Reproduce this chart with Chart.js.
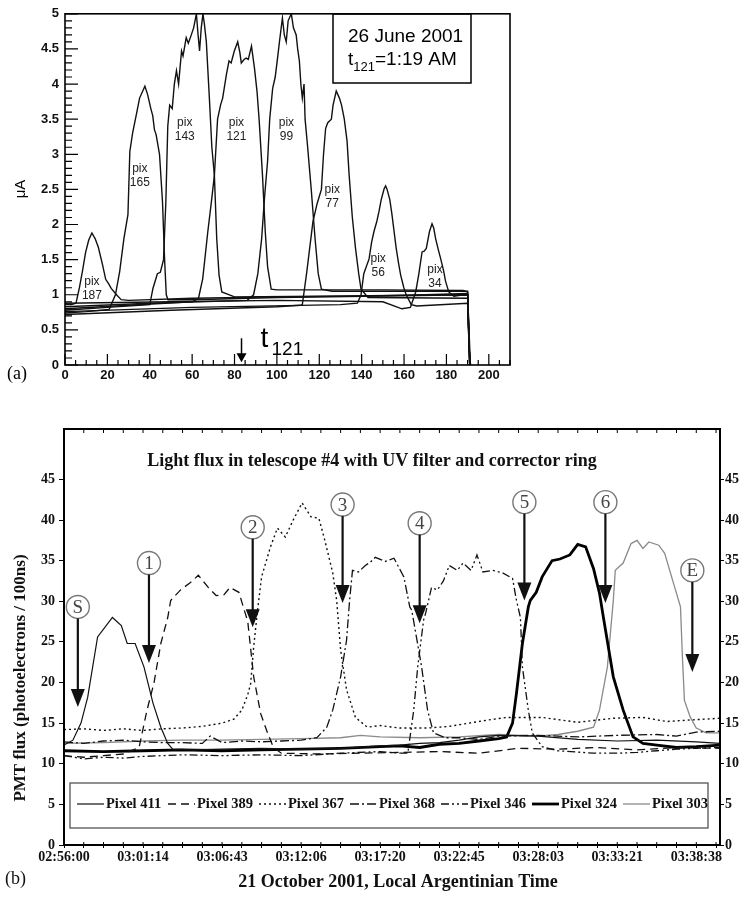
<!DOCTYPE html>
<html>
<head>
<meta charset="utf-8">
<script src="https://cdn.jsdelivr.net/npm/chart.js@4.4.1/dist/chart.umd.min.js"></script>
<style>
  html, body { margin: 0; padding: 0; background: #fff; overflow: hidden; width: 739px; height: 898px; }
  #chartA { position: absolute; left: 0; top: 0; }
  #chartB { position: absolute; left: 0; top: 400px; }
</style>
</head>
<body>
<canvas id="chartA" width="739" height="400"></canvas>
<canvas id="chartB" width="752" height="498"></canvas>
<script>
// ---------- panel (a): scan position vs current (uA), one curve per pixel ----------
const pix187 = [[0,0.86],[3,0.86],[5.2,0.88],[6.8,1.1],[8.2,1.33],[9.7,1.6],[11.2,1.78],[12.7,1.88],[14.2,1.8],[15.7,1.68],[17.7,1.43],[19.2,1.22],[20.7,1.15],[21.8,1.09],[24.3,1.0],[26.5,0.93],[30,0.92],[60,0.95],[100,0.97],[140,0.98],[170,1.0],[190,1.02],[190.8,0.4],[191.3,0]];
const pix165 = [[0,0.74],[10,0.76],[20.8,0.79],[23.8,1.0],[25.8,1.33],[27.8,1.8],[29.7,2.14],[30.6,3.04],[31.9,3.3],[33.9,3.6],[35.2,3.8],[37.7,3.97],[39,3.85],[40.5,3.65],[41.4,3.55],[42.2,3.35],[43,3.28],[44.6,3.0],[46,2.33],[47,1.5],[47.8,1.0],[48.6,0.93],[60,0.93],[100,0.96],[150,0.98],[190,1.0],[190.6,0.3],[191.4,0]];
const pix143 = [[0,0.78],[20,0.82],[40,0.86],[41.5,1.09],[43.6,1.3],[45,1.32],[46.5,1.5],[47.6,2.33],[48.5,3.4],[49.4,3.7],[50.6,3.65],[51.6,4.0],[52.6,4.19],[53.6,4.0],[55,4.47],[55.7,4.4],[57.2,4.66],[58.2,4.58],[59.6,4.7],[60.7,4.8],[62,5.0],[62.8,4.7],[63.5,4.47],[64.3,4.8],[65.1,5.0],[65.8,4.85],[66.7,4.6],[68.2,3.76],[69.3,3.1],[70.5,2.7],[71.6,1.8],[72.7,1.28],[74,1.04],[80,0.97],[120,0.98],[190,1.0],[190.8,0.2],[191.2,0]];
const pix121 = [[0,0.8],[30,0.85],[60,0.9],[63,0.95],[65,1.23],[67.4,1.9],[69,2.3],[70.5,2.7],[72,3.5],[73.4,3.7],[74.4,3.8],[76.2,4.14],[77.4,4.33],[78.4,4.3],[79.9,4.47],[81.5,4.6],[82.5,4.45],[83.2,4.3],[84.5,4.35],[85.5,4.37],[86.5,4.35],[88,4.54],[89.4,4.23],[90.6,3.9],[91.6,3.5],[93.2,2.7],[94.5,1.9],[95.6,1.4],[97.3,1.08],[100,1.07],[150,1.07],[188,1.06],[190,1.04],[191,0]];
const pix99 = [[0,0.83],[40,0.88],[86,0.92],[89,1.0],[91,1.3],[92.8,1.8],[94.2,2.4],[95.6,2.9],[96.6,3.5],[98,3.94],[99.2,4.1],[100.3,4.37],[101.2,4.6],[102.6,4.94],[103.5,4.7],[104.4,4.6],[105.3,4.9],[106.8,5.0],[107.8,4.8],[109.1,4.7],[109.8,4.5],[110.6,4.33],[111.3,4.0],[112,3.8],[112.8,4.0],[113.3,3.5],[114.4,3.14],[116.2,2.5],[118,1.8],[119.5,1.3],[121,1.08],[126,1.05],[190,1.05],[191,0]];
const pix77 = [[0,0.72],[50,0.78],[100,0.83],[111,0.85],[112,0.86],[114,1.3],[117,2.04],[119,2.3],[121,2.5],[122,3.0],[123,3.37],[124,3.45],[125.7,3.5],[126.5,3.7],[128,3.9],[129.5,3.8],[130.5,3.7],[131.8,3.5],[133.1,3.19],[134.1,2.7],[135.6,2.1],[137.1,1.66],[138.6,1.3],[139.7,1.08],[143,0.96],[190,0.95],[191,0]];
const pix56 = [[0,0.76],[60,0.82],[130,0.86],[138,0.88],[139.7,1.0],[141,1.3],[143.5,1.51],[144.7,1.75],[145.8,1.9],[147.2,2.05],[148.2,2.19],[149.2,2.35],[150.6,2.51],[151.3,2.55],[152,2.5],[153.3,2.35],[154.3,2.14],[156.3,1.66],[157.4,1.45],[158.4,1.28],[159.9,1.1],[161,1.0],[163.4,0.86],[166,0.84],[190,0.88],[191,0]];
const pix34 = [[0,0.88],[50,0.9],[100,0.92],[150,0.9],[159,0.8],[163,0.82],[165.5,1.04],[167,1.3],[168.5,1.61],[169.5,1.62],[170.5,1.66],[172,1.9],[173.2,2.01],[174,1.95],[174.9,1.8],[176.1,1.65],[177.3,1.51],[178.6,1.35],[179.6,1.19],[181.1,1.04],[183.5,0.98],[188,1.0],[190,1.0],[191,0]];

const scanSeries = [pix187, pix165, pix143, pix121, pix99, pix77, pix56, pix34];
const scanNames = ['187', '165', '143', '121', '99', '77', '56', '34'];
const scanLabelX = [12.7, 35.3, 56.5, 80.9, 104.5, 126.1, 147.8, 174.6];
const scanLabelY = [1.18, 2.8, 3.45, 3.45, 3.45, 2.49, 1.52, 1.35];
const t121Pos = 83.3;

// ---------- panel (b): PMT flux, x = sample tick index ----------
const timeLabels = ['02:56:00', '03:01:14', '03:06:43', '03:12:06', '03:17:20', '03:22:45', '03:28:03', '03:33:21', '03:38:38'];
const pixelNames = ['Pixel 411', 'Pixel 389', 'Pixel 367', 'Pixel 368', 'Pixel 346', 'Pixel 324', 'Pixel 303'];

const px411 = [[0,12.3],[0.45,12.9],[0.86,15],[1.2,18.2],[1.7,25.6],[2.45,28.0],[2.9,27],[3.2,24.8],[3.6,24.8],[4.05,21.9],[4.5,17.5],[4.9,14.5],[5.25,12.5],[5.5,11.8],[6.5,11.7],[8,11.8],[10,11.9],[12,11.8],[14,11.9],[16,12.2],[17,12.3],[18,12.5],[19,12.6],[20,12.9],[21,13.3],[22,13.5],[24,13.4],[26,13.0],[28,12.8],[30,12.9],[32,12.7],[33.2,12.5]];
const px389 = [[0,11.0],[1,10.8],[2,11.0],[3,11.2],[3.8,12.0],[4.2,16.6],[4.55,19.9],[4.9,24.8],[5.25,28],[5.4,30.1],[5.9,31.4],[6.4,32.3],[6.8,33.2],[7.3,31.7],[7.7,30.7],[8.1,30.8],[8.4,31.7],[8.85,31.1],[9.3,27.5],[9.6,20.7],[9.95,16.2],[10.3,13.8],[10.6,12.0],[11,11.3],[13,11.2],[15,11.3],[17,11.4],[19,11.5],[21,11.3],[23,11.9],[25,11.8],[27,12.0],[29,11.7],[31,12.0],[33.2,11.9]];
const px367 = [[0,14.2],[1,14.3],[2,14.1],[3,14.3],[4,14.1],[5,14.3],[6,14.4],[7,14.6],[8,15.0],[8.6,15.5],[9.0,16.6],[9.3,18.5],[9.45,19.9],[9.6,24.4],[9.8,29],[10,33],[10.45,36.7],[10.8,39],[11.2,37.9],[11.6,40],[12.05,42.1],[12.5,40.4],[12.9,40.2],[13.2,37.5],[13.6,33.5],[13.8,30.1],[14,24],[14.3,19.1],[14.75,15.7],[15.35,14.5],[16,14.7],[17,14.4],[18.4,14.4],[19.5,14.6],[20.5,15.0],[21.5,15.4],[22.4,15.7],[24.2,15.7],[26,15.1],[27.8,15.6],[29.3,15.7],[30.5,15.2],[31.8,15.4],[33.2,15.6]];
const px368 = [[0,12.7],[1,12.5],[2,12.8],[3,12.9],[4,12.7],[5,12.6],[6,12.6],[7,12.5],[7.4,13.4],[8,12.6],[9,12.8],[10,12.7],[11,12.8],[12,12.9],[12.8,13.2],[13.3,14.5],[13.6,16.6],[14,20.7],[14.3,25.2],[14.45,30],[14.6,33.8],[14.9,33.6],[15.25,34.4],[15.5,34.8],[15.75,35.4],[16.25,34.9],[16.7,35.3],[17.2,33],[17.5,29.3],[17.6,28.9],[18.1,21.9],[18.4,16.6],[18.7,13.8],[19.3,13.2],[20,13.2],[21,13.0],[22,13.4],[24,13.5],[26,13.3],[28,13.5],[30,13.6],[31,13.4],[32,13.9],[33.2,14.0]];
const px346 = [[0,11.0],[1,10.6],[2,10.8],[3,10.7],[4,10.9],[5,11.0],[6,11.1],[8,11.0],[10,11.1],[12,11.0],[14,11.3],[16,11.5],[17,11.3],[17.4,11.3],[17.7,16.6],[17.9,21.9],[18.2,27.7],[18.3,28.5],[18.6,31.7],[18.9,31.4],[19.2,32.5],[19.5,34.4],[19.9,33.8],[20.2,34.7],[20.6,33.8],[20.9,35.7],[21.2,33.6],[21.7,33.8],[22.2,33.5],[22.7,32.8],[22.9,30.1],[23.1,28],[23.2,21.9],[23.5,16.6],[23.7,13.8],[24.2,12.1],[25,11.6],[26.8,11.3],[28,11.3],[29,11.4],[30,11.6],[31,11.8],[32,11.9],[33.2,12.0]];
const px324 = [[0,11.6],[2,11.5],[4,11.6],[6,11.7],[8,11.6],[10,11.7],[12,11.8],[14,11.9],[16,12.1],[17,12.2],[18,12.0],[19,12.4],[20,12.5],[21,12.8],[22,13.1],[22.4,13.3],[22.7,15],[22.9,18.7],[23.2,24.8],[23.5,29.3],[23.6,30.1],[23.9,31.1],[24.2,33],[24.7,35],[25.1,35.2],[25.6,35.7],[26,37],[26.4,36.7],[26.8,34],[27.1,31],[27.3,28],[27.8,20.7],[28.3,16.6],[28.8,13.3],[29.3,12.5],[30,12.3],[31,12.0],[32,12.1],[33.2,12.3]];
const px303 = [[0,12.5],[2,12.6],[4,12.8],[6,12.9],[8,12.9],[10,13.0],[12,13.1],[14,13.2],[15,13.5],[16,13.3],[18,13.2],[20,13.3],[22,13.6],[24,13.4],[25,13.6],[26,14.0],[26.8,14.5],[27.1,16.6],[27.5,21.9],[27.8,30.1],[27.9,33.8],[28.3,34.7],[28.7,37.1],[29.0,37.5],[29.3,36.5],[29.6,37.3],[30.1,36.9],[30.4,35.9],[30.8,32.6],[31.2,29.3],[31.3,23],[31.4,17.8],[31.7,15.7],[32,14.4],[32.5,13.8],[33.2,13.8]];

const fluxSeries = [px411, px389, px367, px368, px346, px324, px303];
const fluxDash = [[], [8, 5], [2, 3], [9, 3, 2, 3], [8, 3, 2, 3, 2, 3], [], []];
const fluxWidth = [1.2, 1.3, 1.4, 1.3, 1.3, 2.8, 1.3];
const fluxColor = ['#111', '#111', '#111', '#111', '#111', '#000', '#8a8a8a'];

// arrows: label, x position, circle centre value, tip value
const arrowLabels = ['S', '1', '2', '3', '4', '5', '6', 'E'];
const arrowX = [0.7, 4.3, 9.55, 14.1, 18.0, 23.3, 27.4, 31.8];
const arrowTop = [29.3, 34.7, 39.1, 41.9, 39.6, 42.2, 42.2, 33.8];
const arrowTip = [17, 22.4, 26.8, 29.8, 27.3, 30.1, 29.8, 21.3];

const SANS = '"Liberation Sans", Arial, sans-serif';
const SERIF = '"Liberation Serif", "Times New Roman", serif';

function toPts(arr) { return arr.map(p => ({ x: p[0], y: p[1] })); }

// ---------- panel (a) ----------
const panelA = {
  id: 'panelA',
  afterDatasetsDraw(chart) {
    const { ctx, chartArea: a, scales: { x, y } } = chart;
    ctx.save();
    ctx.strokeStyle = '#000';
    ctx.lineWidth = 1.2;
    ctx.beginPath();
    for (let v = 0; v <= 210; v += 5) {
      const px = x.getPixelForValue(v);
      const len = v % 20 === 0 ? 11 : 5;
      ctx.moveTo(px, a.bottom); ctx.lineTo(px, a.bottom - len);
    }
    for (let i = 0; i <= 50; i++) {
      const py = y.getPixelForValue(i / 10);
      const len = i % 5 === 0 ? 13 : 7;
      ctx.moveTo(a.left, py); ctx.lineTo(a.left + len, py);
    }
    ctx.stroke();
    ctx.lineWidth = 1.6;
    ctx.strokeRect(a.left, a.top, a.right - a.left, a.bottom - a.top);

    // pix labels
    ctx.fillStyle = '#222';
    ctx.font = '12px ' + SANS;
    ctx.textAlign = 'center';
    ctx.textBaseline = 'middle';
    scanNames.forEach((n, i) => {
      const px = x.getPixelForValue(scanLabelX[i]);
      const py = y.getPixelForValue(scanLabelY[i]);
      ctx.fillText('pix', px, py);
      ctx.fillText(n, px, py + 14);
    });

    // t121 arrow
    const ax = x.getPixelForValue(t121Pos);
    const aTop = y.getPixelForValue(0.38);
    const aTip = y.getPixelForValue(0.04);
    ctx.fillStyle = '#000';
    ctx.lineWidth = 1.5;
    ctx.beginPath(); ctx.moveTo(ax, aTop); ctx.lineTo(ax, aTip - 6); ctx.stroke();
    ctx.beginPath(); ctx.moveTo(ax - 5, aTip - 9); ctx.lineTo(ax + 5, aTip - 9); ctx.lineTo(ax, aTip); ctx.closePath(); ctx.fill();
    ctx.textAlign = 'left';
    ctx.textBaseline = 'alphabetic';
    ctx.font = '28px ' + SANS;
    ctx.fillText('t', ax + 19, 347);
    ctx.font = '19px ' + SANS;
    ctx.fillText('121', ax + 30, 355);

    // info box
    ctx.lineWidth = 1.5;
    ctx.strokeRect(333, 14, 138, 69);
    ctx.font = '19px ' + SANS;
    ctx.fillText('26 June 2001', 348, 42);
    ctx.fillText('t', 348, 65);
    const tw = ctx.measureText('t').width;
    ctx.font = '13px ' + SANS;
    ctx.fillText('121', 348 + tw, 71);
    const sw = ctx.measureText('121').width;
    ctx.font = '19px ' + SANS;
    ctx.fillText('=1:19 AM', 348 + tw + sw, 65);

    // axis title and panel tag
    ctx.save();
    ctx.translate(21, 189);
    ctx.rotate(-Math.PI / 2);
    ctx.textAlign = 'center';
    ctx.textBaseline = 'middle';
    ctx.font = '15px ' + SANS;
    ctx.fillText('\u03bcA', 0, 0);
    ctx.restore();
    ctx.font = '18px ' + SERIF;
    ctx.textAlign = 'left';
    ctx.textBaseline = 'middle';
    ctx.fillText('(a)', 7, 374);
    ctx.restore();
  }
};

new Chart(document.getElementById('chartA'), {
  type: 'line',
  data: {
    datasets: scanSeries.map((s, i) => ({
      label: 'pix ' + scanNames[i],
      data: toPts(s),
      borderColor: '#111',
      borderWidth: 1.4,
      pointRadius: 0,
      tension: 0,
      fill: false
    }))
  },
  options: {
    responsive: false,
    animation: false,
    layout: { padding: { top: 13, left: 0, right: 229, bottom: 0 } },
    plugins: { legend: { display: false }, tooltip: { enabled: false } },
    scales: {
      x: {
        type: 'linear', min: 0, max: 210,
        grid: { display: false, drawTicks: false },
        border: { display: false },
        ticks: { stepSize: 20, includeBounds: false, padding: 3, color: '#111', maxRotation: 0,
          font: { family: SANS, size: 13, weight: 'bold' } },
        afterFit(s) { s.height = 35; }
      },
      y: {
        min: 0, max: 5,
        grid: { display: false, drawTicks: false },
        border: { display: false },
        ticks: { stepSize: 0.5, padding: 6, color: '#111',
          font: { family: SANS, size: 13, weight: 'bold' },
          callback: v => String(Math.round(v * 10) / 10) },
        afterFit(s) { s.width = 65; }
      }
    }
  },
  plugins: [panelA]
});

// ---------- panel (b) ----------
const panelB = {
  id: 'panelB',
  afterDatasetsDraw(chart) {
    const { ctx, chartArea: a, scales: { x, y } } = chart;
    ctx.save();
    ctx.strokeStyle = '#000';
    ctx.lineWidth = 2;
    ctx.strokeRect(a.left, a.top, a.right - a.left, a.bottom - a.top);
    // small inward ticks on the top border
    ctx.lineWidth = 1;
    ctx.beginPath();
    for (let v = 0; v <= 33; v++) {
      const px = x.getPixelForValue(v);
      ctx.moveTo(px, a.top); ctx.lineTo(px, a.top + 4);
      ctx.moveTo(px, a.bottom); ctx.lineTo(px, a.bottom - 3);
    }
    ctx.stroke();

    // title inside the plot
    ctx.fillStyle = '#111';
    ctx.font = 'bold 18px ' + SERIF;
    ctx.textAlign = 'center';
    ctx.textBaseline = 'middle';
    ctx.fillText('Light flux in telescope #4 with UV filter and corrector ring', 372, 61);

    // arrows with circled labels
    arrowLabels.forEach((lab, i) => {
      const px = x.getPixelForValue(arrowX[i]);
      const cy = y.getPixelForValue(arrowTop[i]);
      const tip = y.getPixelForValue(arrowTip[i]);
      ctx.strokeStyle = '#777';
      ctx.lineWidth = 1.4;
      ctx.beginPath(); ctx.arc(px, cy, 11.5, 0, Math.PI * 2); ctx.stroke();
      ctx.fillStyle = '#444';
      ctx.font = '19px ' + SERIF;
      ctx.fillText(lab, px, cy + 1);
      ctx.strokeStyle = '#111';
      ctx.lineWidth = 2.2;
      ctx.beginPath(); ctx.moveTo(px, cy + 11.5); ctx.lineTo(px, tip - 12); ctx.stroke();
      ctx.fillStyle = '#111';
      ctx.beginPath(); ctx.moveTo(px - 7, tip - 18); ctx.lineTo(px + 7, tip - 18); ctx.lineTo(px, tip); ctx.closePath(); ctx.fill();
    });

    // legend box
    ctx.strokeStyle = '#555';
    ctx.lineWidth = 1.3;
    ctx.strokeRect(70, 383, 638, 45);
    ctx.font = 'bold 14.5px ' + SERIF;
    ctx.textAlign = 'left';
    ctx.textBaseline = 'middle';
    chart.data.datasets.forEach((ds, i) => {
      const lx = 77 + i * 91;
      ctx.strokeStyle = ds.borderColor;
      ctx.lineWidth = ds.borderWidth;
      ctx.setLineDash(ds.borderDash || []);
      ctx.beginPath(); ctx.moveTo(lx, 404); ctx.lineTo(lx + 27, 404); ctx.stroke();
      ctx.setLineDash([]);
      ctx.fillStyle = '#111';
      ctx.fillText(ds.label, lx + 29, 404);
    });

    // axis titles and panel tag
    ctx.fillStyle = '#111';
    ctx.font = 'bold 18px ' + SERIF;
    ctx.textAlign = 'center';
    ctx.fillText('21 October 2001, Local Argentinian Time', 398, 482);
    ctx.save();
    ctx.translate(21, 278);
    ctx.rotate(-Math.PI / 2);
    ctx.font = 'bold 17px ' + SERIF;
    ctx.fillText('PMT flux (photoelectrons / 100ns)', 0, 0);
    ctx.restore();
    ctx.font = '18px ' + SERIF;
    ctx.textAlign = 'left';
    ctx.fillText('(b)', 5, 479);
    ctx.restore();
  }
};

const tickFontB = { family: SERIF, size: 14, weight: 'bold' };
// only 0..45 carry ticks on the flux axes
const keepTo45 = s => { s.ticks = s.ticks.filter(t => t.value <= 45); };

new Chart(document.getElementById('chartB'), {
  type: 'line',
  data: {
    datasets: fluxSeries.map((s, i) => ({
      label: pixelNames[i],
      data: toPts(s),
      borderColor: fluxColor[i],
      borderWidth: fluxWidth[i],
      borderDash: fluxDash[i],
      pointRadius: 0,
      tension: 0,
      fill: false
    }))
  },
  options: {
    responsive: false,
    animation: false,
    layout: { padding: { top: 29, left: 0, right: 0, bottom: 0 } },
    plugins: { legend: { display: false }, tooltip: { enabled: false } },
    scales: {
      x: {
        type: 'linear', min: 0, max: 33.2,
        grid: { drawOnChartArea: false, drawTicks: true, tickLength: 3, color: '#000', lineWidth: 1 },
        border: { display: false },
        ticks: {
          stepSize: 1, includeBounds: false, autoSkip: false, maxRotation: 0, padding: 1, color: '#111',
          font: tickFontB,
          callback: v => (v % 4 === 0 ? timeLabels[v / 4] : '')
        },
        afterFit(s) { s.height = 53; }
      },
      y: {
        min: 0, max: 51.2, position: 'left',
        grid: { drawOnChartArea: false, drawTicks: true, tickLength: 5, color: '#000' },
        border: { display: false },
        ticks: { stepSize: 5, includeBounds: false, padding: 4, color: '#111', font: tickFontB },
        afterBuildTicks: keepTo45,
        afterFit(s) { s.width = 64; }
      },
      y2: {
        min: 0, max: 51.2, position: 'right',
        grid: { drawOnChartArea: false, drawTicks: true, tickLength: 4, color: '#000' },
        border: { display: false },
        ticks: { stepSize: 5, includeBounds: false, padding: 1, color: '#111', font: tickFontB },
        afterBuildTicks: keepTo45,
        afterFit(s) { s.width = 32; }
      }
    }
  },
  plugins: [panelB]
});
</script>
</body>
</html>
